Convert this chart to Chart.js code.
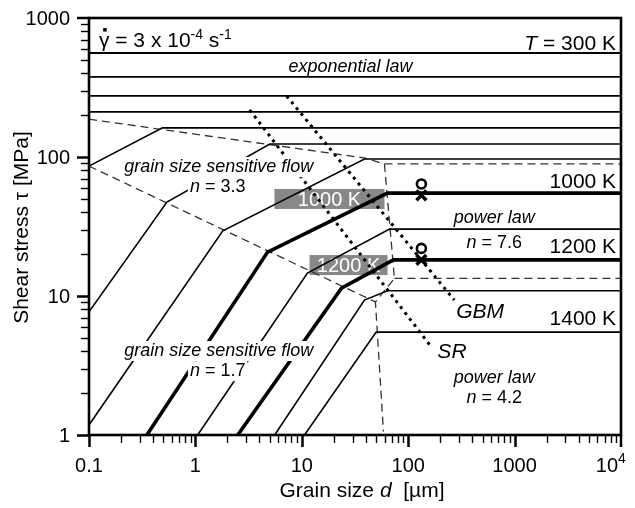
<!DOCTYPE html>
<html>
<head>
<meta charset="utf-8">
<title>Deformation mechanism map</title>
<script src="https://cdn.jsdelivr.net/npm/chart.js@4.4.0/dist/chart.umd.min.js"></script>
<style>
  body { margin: 0; background: #fff; }
  #wrap { width: 635px; height: 508px; }
</style>
</head>
<body>
<div id="wrap"><canvas id="mapChart"></canvas></div>
<script>
// Axis decades
const grainTicks = [0.1, 1, 10, 100, 1000, 10000];
const stressTicks = [1, 10, 100, 1000];

// Exponential-law isotherms, flat over the whole grain size range [MPa]
const flatStress = [560, 377, 275, 211];

// Isotherms with bends (grain size in µm, shear stress in MPa)
const iso162D = [0.1, 0.49, 10000];
const iso162Tau = [86, 162, 162];
const iso124D = [0.1, 0.54, 5.0, 10000];
const iso124Tau = [7.7, 47.4, 124, 124];
const iso97D = [0.1, 1.81, 38.8, 10000];
const iso97Tau = [1.18, 29.4, 96.8, 96.8];
const t1000D = [0.35, 4.77, 63.8, 10000];
const t1000Tau = [1, 20.7, 55, 55];
const t1100D = [1.05, 11.3, 66.7, 10000];
const t1100Tau = [1, 14.6, 30.3, 30.3];
const t1200D = [2.5, 23.6, 72.6, 10000];
const t1200Tau = [1, 11.4, 18.2, 18.2];
const t1300D = [5.56, 38.8, 63.8, 10000];
const t1300Tau = [1, 9.35, 10.9, 10.9];
const t1400D = [10.6, 50, 10000];
const t1400Tau = [1, 5.5, 5.5];

// Field boundaries (dashed)
const expBoundD = [0.1, 38.8, 59.8, 10000];
const expBoundTau = [187, 98.4, 89.1, 89.1];
const gssBoundD = [0.1, 49.2];
const gssBoundTau = [86.1, 9.06];
const powBoundD = [59.8, 74.2, 49.2, 58.5];
const powBoundTau = [89.1, 13.4, 9.06, 1.06];
const nBoundD = [74.2, 10000];
const nBoundTau = [13.4, 13.4];

// GBM and SR lines (dotted)
const gbmD = [7.2, 271];
const gbmTau = [275, 9.35];
const srD = [3.24, 165];
const srTau = [218, 4.3];

// Measured points at d = 133 µm
const pointD = [133, 133];
const circleTau = [64, 22];
const crossTau = [53, 18.2];

const FONT = '"Liberation Sans", Arial, Helvetica, sans-serif';
function font(size, italic) {
    return (italic ? 'italic ' : '') + size + 'px ' + FONT;
}

function path(dArr, tauArr) {
    return dArr.map((d, i) => ({ x: d, y: tauArr[i] }));
}

// text run helper: t = text, s = size, i = italic, u = superscript
function run(t, s, i, u) { return { t: t, s: s, i: !!i, u: !!u }; }

// Labels placed in data coordinates
const notes = [
    { d: 0.124, tau: 618, align: 'left', gamma: true,
      runs: [run('γ', 21), run(' = 3 x 10', 21), run('-4', 14, false, true), run(' s', 21), run('-1', 14, false, true)] },
    { d: 8970, tau: 589, align: 'right', runs: [run('T', 21, true), run(' = 300 K', 21)] },
    { d: 28.7, tau: 409, align: 'center', runs: [run('exponential law', 18, true)] },
    { d: 1.66, tau: 78, align: 'center', mask: true, runs: [run('grain size sensitive flow', 18, true)] },
    { d: 1.62, tau: 56, align: 'center', mask: true, runs: [run('n', 18, true), run(' = 3.3', 18)] },
    { d: 9000, tau: 59.8, align: 'right', runs: [run('1000 K', 21)] },
    { d: 644, tau: 33.5, align: 'center', runs: [run('power law', 18, true)] },
    { d: 644, tau: 22.1, align: 'center', runs: [run('n', 18, true), run(' = 7.6', 18)] },
    { d: 9000, tau: 20.4, align: 'right', runs: [run('1200 K', 21)] },
    { d: 283, tau: 6.95, align: 'left', runs: [run('GBM', 21, true)] },
    { d: 9000, tau: 6.18, align: 'right', runs: [run('1400 K', 21)] },
    { d: 188, tau: 3.58, align: 'left', runs: [run('SR', 21, true)] },
    { d: 644, tau: 2.37, align: 'center', runs: [run('power law', 18, true)] },
    { d: 644, tau: 1.70, align: 'center', runs: [run('n', 18, true), run(' = 4.2', 18)] },
    { d: 1.66, tau: 3.70, align: 'center', mask: true, runs: [run('grain size sensitive flow', 18, true)] },
    { d: 1.62, tau: 2.65, align: 'center', mask: true, runs: [run('n', 18, true), run(' = 1.7', 18)] }
];

// Grey tags on the thick isotherms (centre in data coordinates, box size in px)
const tags = [
    { d: 18.2, tau: 49.9, w: 110, h: 20, text: '1000 K' },
    { d: 27.5, tau: 16.7, w: 78, h: 20, text: '1200 K' }
];

function drawRuns(ctx, runs, x, y, align) {
    const widths = runs.map(r => { ctx.font = font(r.s, r.i); return ctx.measureText(r.t).width; });
    const total = widths.reduce((a, b) => a + b, 0);
    let cx = align === 'center' ? x - total / 2 : align === 'right' ? x - total : x;
    const left = cx;
    ctx.textAlign = 'left';
    ctx.textBaseline = 'alphabetic';
    runs.forEach((r, i) => {
        ctx.font = font(r.s, r.i);
        ctx.fillText(r.t, cx, r.u ? y - 8 : y);
        cx += widths[i];
    });
    return { left: left, width: total };
}

function measureRuns(ctx, runs) {
    return runs.reduce((sum, r) => { ctx.font = font(r.s, r.i); return sum + ctx.measureText(r.t).width; }, 0);
}

const thin = { borderColor: '#000', borderWidth: 1.6 };
const thick = { borderColor: '#000', borderWidth: 3.6 };
const dashed = { borderColor: '#333', borderWidth: 1.3, borderDash: [8, 5] };
const dotted = { borderColor: '#000', borderWidth: 3, borderDash: [3, 4.5] };

function line(data, style) {
    return Object.assign({ data: data, showLine: true, pointRadius: 0, fill: false, tension: 0 }, style);
}

const datasets = [];
flatStress.forEach(t => datasets.push(line(path([0.1, 10000], [t, t]), { borderColor: '#000', borderWidth: 1.8 })));
datasets.push(line(path(iso162D, iso162Tau), thin));
datasets.push(line(path(iso124D, iso124Tau), thin));
datasets.push(line(path(iso97D, iso97Tau), thin));
datasets.push(line(path(t1000D, t1000Tau), thick));
datasets.push(line(path(t1100D, t1100Tau), thin));
datasets.push(line(path(t1200D, t1200Tau), thick));
datasets.push(line(path(t1300D, t1300Tau), thin));
datasets.push(line(path(t1400D, t1400Tau), thin));
datasets.push(line(path(expBoundD, expBoundTau), dashed));
datasets.push(line(path(gssBoundD, gssBoundTau), dashed));
datasets.push(line(path(powBoundD, powBoundTau), dashed));
datasets.push(line(path(nBoundD, nBoundTau), dashed));
datasets.push(line(path(gbmD, gbmTau), dotted));
datasets.push(line(path(srD, srTau), dotted));
datasets.push({
    data: path(pointD, circleTau), showLine: false, pointStyle: 'circle',
    pointRadius: 4.5, pointBorderWidth: 2.6, pointBorderColor: '#000', pointBackgroundColor: '#fff'
});
datasets.push({
    data: path(pointD, crossTau), showLine: false, pointStyle: 'crossRot',
    pointRadius: 7, pointBorderWidth: 3.5, pointBorderColor: '#000'
});

// grey tags go under the curves
const tagPlugin = {
    id: 'tags',
    beforeDatasetsDraw(chart) {
        const ctx = chart.ctx, xs = chart.scales.x, ys = chart.scales.y;
        ctx.save();
        tags.forEach(tg => {
            const cx = xs.getPixelForValue(tg.d), cy = ys.getPixelForValue(tg.tau);
            ctx.fillStyle = '#888';
            ctx.fillRect(cx - tg.w / 2, cy - tg.h / 2, tg.w, tg.h);
            ctx.fillStyle = '#fff';
            ctx.font = font(20, false);
            ctx.textAlign = 'center';
            ctx.textBaseline = 'alphabetic';
            ctx.fillText(tg.text, cx, cy + 7);
        });
        ctx.restore();
    }
};

// field labels, frame, ticks and axis titles
const mapPlugin = {
    id: 'mapDecor',
    afterDatasetsDraw(chart) {
        const ctx = chart.ctx, xs = chart.scales.x, ys = chart.scales.y;
        ctx.save();
        notes.forEach(n => {
            const x = xs.getPixelForValue(n.d), y = ys.getPixelForValue(n.tau);
            if (n.mask) {
                const w = measureRuns(ctx, n.runs);
                const left = n.align === 'center' ? x - w / 2 : n.align === 'right' ? x - w : x;
                ctx.fillStyle = '#fff';
                ctx.fillRect(left - 2, y - 15, w + 4, 20);
            }
            ctx.fillStyle = '#000';
            const box = drawRuns(ctx, n.runs, x, y, n.align);
            if (n.gamma) {
                // dot over gamma (strain rate)
                ctx.font = font(21, false);
                const gw = ctx.measureText('γ').width;
                ctx.fillRect(box.left + gw / 2 - 1, y - 19, 3.5, 3.5);
            }
        });
        ctx.restore();
    },
    afterDraw(chart) {
        const ctx = chart.ctx, area = chart.chartArea;
        const xs = chart.scales.x, ys = chart.scales.y;
        ctx.save();
        ctx.strokeStyle = '#000';
        ctx.fillStyle = '#000';

        // minor and major ticks, outside the frame
        for (let k = -1; k <= 3; k++) {
            for (let m = 1; m <= 9; m++) {
                const v = m * Math.pow(10, k);
                const px = Math.round(xs.getPixelForValue(v)) + 0.5;
                ctx.lineWidth = m === 1 ? 2.5 : 1.4;
                ctx.beginPath();
                ctx.moveTo(px, area.bottom);
                ctx.lineTo(px, area.bottom + (m === 1 ? 12 : 8));
                ctx.stroke();
            }
        }
        const pEnd = xs.getPixelForValue(10000);
        ctx.lineWidth = 2.5;
        ctx.beginPath(); ctx.moveTo(pEnd, area.bottom); ctx.lineTo(pEnd, area.bottom + 12); ctx.stroke();

        for (let k = 0; k <= 2; k++) {
            for (let m = 1; m <= 9; m++) {
                const v = m * Math.pow(10, k);
                const py = Math.round(ys.getPixelForValue(v)) + 0.5;
                ctx.lineWidth = m === 1 ? 2.5 : 1.4;
                ctx.beginPath();
                ctx.moveTo(area.left, py);
                ctx.lineTo(area.left - (m === 1 ? 12 : 8), py);
                ctx.stroke();
            }
        }
        const pTop = ys.getPixelForValue(1000);
        ctx.lineWidth = 2.5;
        ctx.beginPath(); ctx.moveTo(area.left, pTop); ctx.lineTo(area.left - 12, pTop); ctx.stroke();

        // frame
        ctx.lineWidth = 2.6;
        ctx.strokeRect(area.left, area.top, area.right - area.left, area.bottom - area.top);

        // tick labels
        ctx.font = font(20, false);
        ctx.textAlign = 'right';
        ctx.textBaseline = 'middle';
        stressTicks.forEach(v => ctx.fillText(String(v), area.left - 19, ys.getPixelForValue(v) + 1));

        ctx.textBaseline = 'alphabetic';
        grainTicks.forEach(v => {
            const px = xs.getPixelForValue(v);
            if (v === 10000) {
                ctx.font = font(20, false);
                ctx.textAlign = 'right';
                ctx.fillText('10', px - 3, area.bottom + 37);
                ctx.font = font(14, false);
                ctx.textAlign = 'left';
                ctx.fillText('4', px - 3, area.bottom + 28);
            } else {
                ctx.font = font(20, false);
                ctx.textAlign = 'center';
                ctx.fillText(String(v), px, area.bottom + 37);
            }
        });

        // axis titles
        drawRuns(ctx, [run('Grain size ', 21), run('d', 21, true), run('  [µm]', 21)],
            (area.left + area.right) / 2 + 7, area.bottom + 62, 'center');

        ctx.translate(28, (area.top + area.bottom) / 2 + 1);
        ctx.rotate(-Math.PI / 2);
        drawRuns(ctx, [run('Shear stress τ [MPa]', 21)], 0, 0, 'center');
        ctx.restore();
    }
};

new Chart(document.getElementById('mapChart'), {
    type: 'scatter',
    data: { datasets: datasets },
    options: {
        responsive: true,
        maintainAspectRatio: false,
        animation: false,
        layout: { padding: { left: 89, right: 14, top: 18, bottom: 73 } },
        scales: {
            x: { type: 'logarithmic', min: 0.1, max: 10000, display: false },
            y: { type: 'logarithmic', min: 1, max: 1000, display: false }
        },
        plugins: {
            legend: { display: false },
            tooltip: { enabled: false }
        }
    },
    plugins: [tagPlugin, mapPlugin]
});
</script>
</body>
</html>
